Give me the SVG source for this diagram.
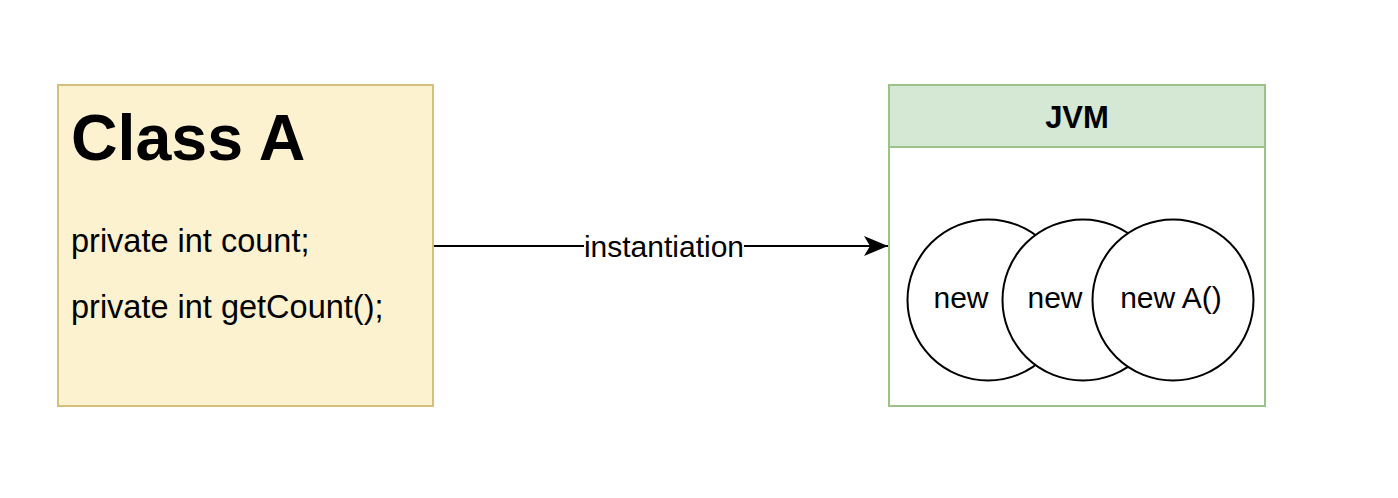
<svg xmlns="http://www.w3.org/2000/svg" width="1398" height="498" viewBox="0 0 1398 498">
<style>
text{font-family:"Liberation Sans",Arial,sans-serif;fill:#000}
.body{font-size:32.5px}
.lbl{font-size:30px}
.circ{fill:#fff;stroke:#000;stroke-width:2}
</style>
<defs>
<marker id="arr" markerWidth="26" markerHeight="22" refX="25" refY="11" orient="auto" markerUnits="userSpaceOnUse">
<path d="M1,1 L25,11 L1,21 L7,11 Z" fill="#000"/>
</marker>
</defs>
<rect width="1398" height="498" fill="#fff"/>
<g id="classA">
<rect x="58" y="85" width="375" height="321" fill="#fdf2cf" stroke="#d6bf7a" stroke-width="2"/>
<text x="71" y="160" font-size="64.5" font-weight="bold">Class A</text>
<text class="body" x="71" y="252">private int count;</text>
<text class="body" x="71" y="318">private int getCount();</text>
</g>
<g id="jvm">
<rect x="889" y="85" width="376" height="321" fill="#fff" stroke="#9cc28c" stroke-width="2"/>
<rect x="889" y="85" width="376" height="62" fill="#d5e8d4" stroke="#9cc28c" stroke-width="2"/>
<text x="1077" y="128" font-size="31" font-weight="bold" text-anchor="middle">JVM</text>
</g>
<g id="obj1">
<circle class="circ" cx="988" cy="300" r="80.5"/>
<text class="lbl" x="961" y="308" text-anchor="middle">new</text>
</g>
<g id="obj2">
<circle class="circ" cx="1083" cy="300" r="80.5"/>
<text class="lbl" x="1055" y="308" text-anchor="middle">new</text>
</g>
<g id="obj3">
<circle class="circ" cx="1173" cy="300" r="80.5"/>
<text class="lbl" x="1171" y="308" text-anchor="middle">new A()</text>
</g>
<g id="connectors">
<line x1="434" y1="246" x2="888" y2="246" stroke="#000" stroke-width="2" marker-end="url(#arr)"/>
<rect x="584" y="232" width="160" height="28" fill="#fff"/>
<text class="lbl" x="664" y="257" text-anchor="middle">instantiation</text>
</g>
</svg>
